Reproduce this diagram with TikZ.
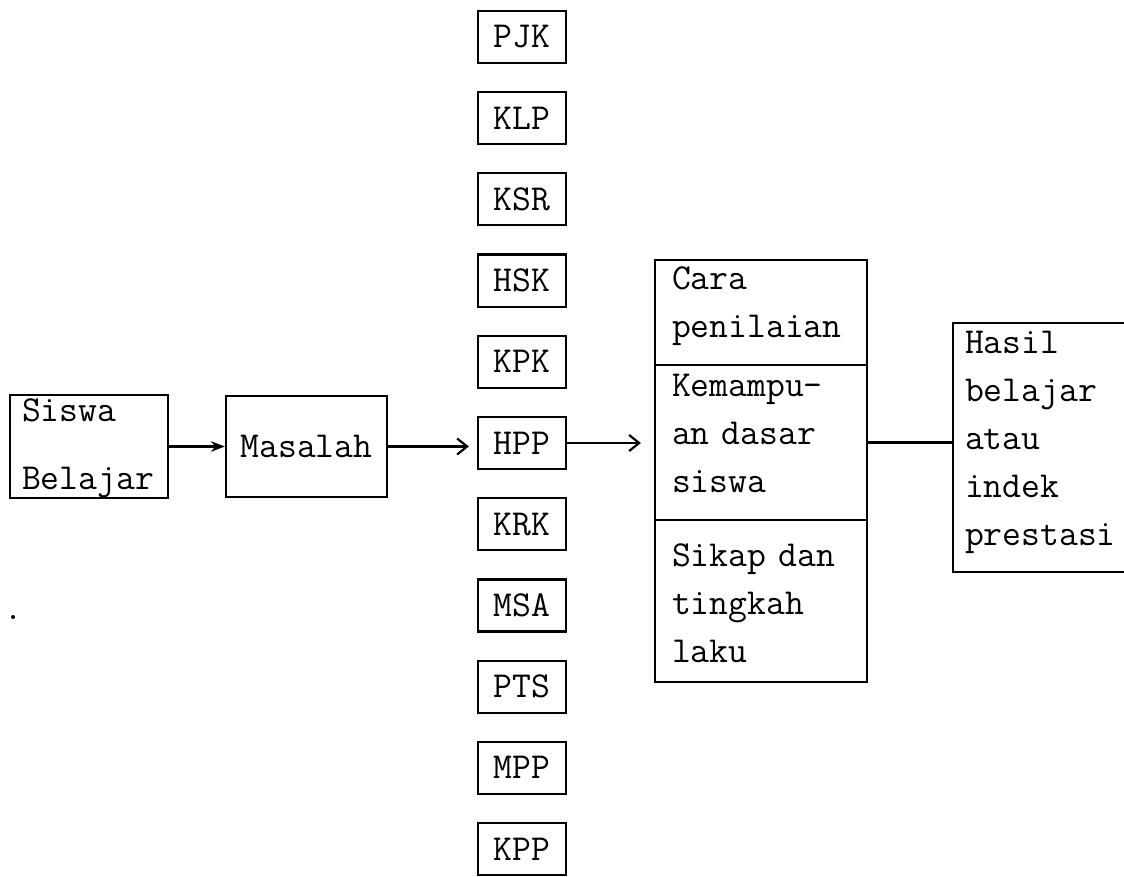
\documentclass[tikz,border=0pt]{standalone}
\usepackage{fontspec}
\usetikzlibrary{arrows.meta}
\newcommand{\tstrut}{\rule[-11.25pt]{0pt}{24pt}}

\begin{document}
\begin{tikzpicture}[x=0.5pt,y=-0.5pt,line width=1.1pt,
  >={Straight Barb[length=5pt,width=8pt]},
  every node/.style={font=\ttfamily\fontsize{18.3}{24}\selectfont},
  kotak/.style={draw,inner sep=0pt,minimum width=44pt,minimum height=26pt},
  sel/.style={draw,inner ysep=0pt,inner xsep=8.5pt,text width=89pt,align=left}]
  \useasboundingbox (0,0) rectangle (1124,877);
  \node[draw,inner ysep=0pt,inner xsep=6pt,text width=67pt,align=left,minimum height=50.5pt] (siswa) at (89,446.5) {\rule{0pt}{13pt}Siswa\\[10pt]Belajar};
  \node[draw,minimum width=80.5pt,minimum height=50.5pt] (masalah) at (306.5,446.5) {Masalah};
  \foreach \kode [count=\i from 0] in {PJK,KLP,KSR,HSK,KPK,HPP,KRK,MSA,PTS,MPP,KPP}
    \node[kotak] (\kode) at (522,{37+81.2*\i}) {\kode};
  \node[sel,minimum height=52.5pt] (cara) at (761,312.5) {\tstrut Cara\\\tstrut penilaian};
  \node[sel,minimum height=77.5pt] (kemampuan) at (761,442.5) {\tstrut Kemampu-\\\tstrut an dasar\\\tstrut siswa};
  \node[sel,minimum height=81pt] (sikap) at (761,601) {\rule{0pt}{14pt}\tstrut Sikap dan\\\tstrut tingkah\\\rule{0pt}{12.75pt}laku};
  \node[draw,inner ysep=0pt,inner xsep=6pt,text width=76.5pt,align=left,minimum height=124.5pt] (hasil) at (1041.5,447.5) {\tstrut Hasil\\\tstrut belajar\\\tstrut atau\\\tstrut indek\\\tstrut prestasi};
  \draw[-{Stealth[length=7pt]}] (siswa) -- (masalah);
  \draw[->,shorten >=4pt] (masalah) -- (masalah -| HPP.west);
  \draw[->,shorten >=6.5pt] (HPP) -- (HPP -| kemampuan.west);
  \draw (kemampuan) -- (kemampuan -| hasil.west);
  \fill (13,617) circle (2);
\end{tikzpicture}
\end{document}
